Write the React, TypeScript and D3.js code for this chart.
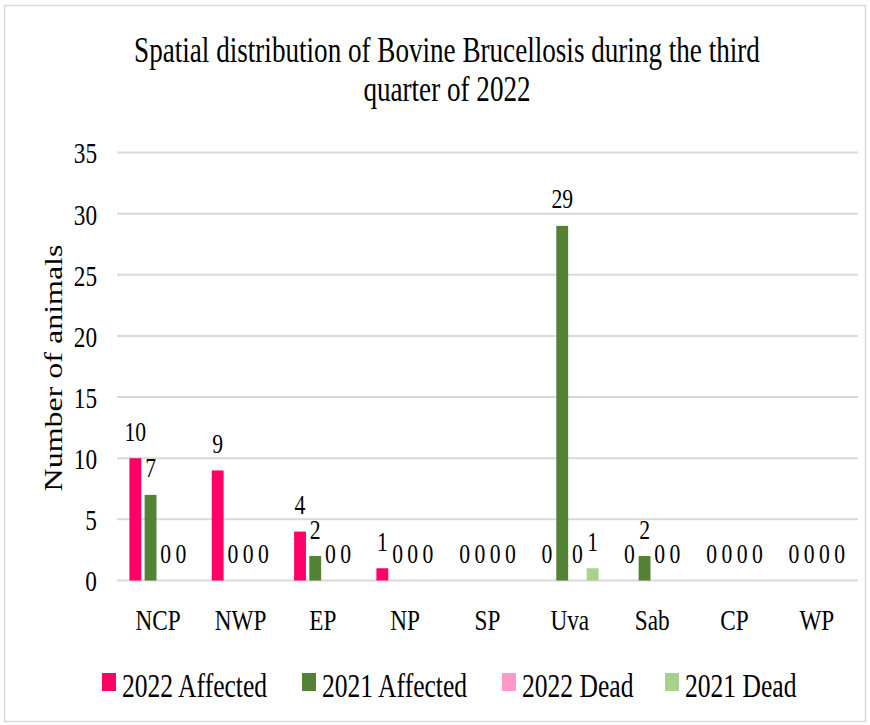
import React from "react";
import * as d3 from "d3";

const categories = ["NCP", "NWP", "EP", "NP", "SP", "Uva", "Sab", "CP", "WP"];
const affected2022 = [10, 9, 4, 1, 0, 0, 0, 0, 0];
const affected2021 = [7, 0, 2, 0, 0, 29, 2, 0, 0];
const dead2022 = [0, 0, 0, 0, 0, 0, 0, 0, 0];
const dead2021 = [0, 0, 0, 0, 0, 1, 0, 0, 0];
const seriesNames = ["2022 Affected", "2021 Affected", "2022 Dead", "2021 Dead"];
const seriesColors = ["#FF0066", "#548235", "#FF99CC", "#A9D18E"];
const yTicks = [0, 5, 10, 15, 20, 25, 30, 35];
const titleLines = ["Spatial distribution of Bovine Brucellosis during the third", "quarter of 2022"];

const SX = 0.775; // horizontal condensation of the reference
const H = 725;
const VW = 870 / SX;
const X = (px: number) => px / SX; // screen px -> viewBox units
const FONT = "'Liberation Serif', 'Times New Roman', serif";

export default function App() {
  const series = [affected2022, affected2021, dead2022, dead2021];
  const x0 = d3.scaleBand<string>().domain(categories).range([X(117), X(858)]).padding(0);
  const groupW = X(57.5);
  const x1 = d3
    .scaleBand<number>()
    .domain([0, 1, 2, 3])
    .range([0, groupW])
    .paddingInner(0.22)
    .paddingOuter(0);
  const y = d3.scaleLinear().domain([0, 35]).range([580.5, 152.5]);
  const groupOffset = (x0.bandwidth() - groupW) / 2;

  const legendX = [102, 302, 502, 665];

  return (
    <svg
      width={870}
      height={H}
      viewBox={`0 0 ${VW} ${H}`}
      preserveAspectRatio="none"
      style={{ position: "absolute", left: 0, top: 0, background: "#fff" }}
      fontFamily={FONT}
    >
      <rect x={0} y={0} width={VW} height={H} fill="#fff" />
      <rect
        x={X(4.5)}
        y={5.5}
        width={X(861)}
        height={716}
        fill="none"
        stroke="#d9d9d9"
        strokeWidth={1.5}
        vectorEffect="non-scaling-stroke"
      />
      {titleLines.map((t, i) => (
        <text key={t} x={X(447)} y={62 + i * 39} textAnchor="middle" fontSize={35} fill="#000">
          {t}
        </text>
      ))}
      {yTicks.map((t) => (
        <g key={t}>
          <line x1={X(117)} x2={X(858)} y1={y(t)} y2={y(t)} stroke="#d9d9d9" strokeWidth={2} />
          <text x={X(97)} y={y(t) + 11} textAnchor="end" fontSize={30} fill="#000">
            {t}
          </text>
        </g>
      ))}
      <text
        transform={`translate(${X(62)},${368}) rotate(-90)`}
        textAnchor="middle"
        fontSize={32}
        fill="#000"
      >
        Number of animals
      </text>
      {categories.map((c, ci) => (
        <g key={c} transform={`translate(${(x0(c) as number) + groupOffset},0)`}>
          {series.map((s, si) => (
            <rect
              key={si}
              x={x1(si)}
              y={y(s[ci])}
              width={x1.bandwidth()}
              height={y(0) - y(s[ci])}
              fill={seriesColors[si]}
            />
          ))}
          {series.map((s, si) => (
            <text
              key={"l" + si}
              x={(x1(si) as number) + x1.bandwidth() / 2}
              y={y(s[ci]) - 17.5}
              textAnchor="middle"
              fontSize={28}
              fill="#000"
            >
              {s[ci]}
            </text>
          ))}
        </g>
      ))}
      {categories.map((c) => (
        <text
          key={"c" + c}
          x={(x0(c) as number) + x0.bandwidth() / 2}
          y={630}
          textAnchor="middle"
          fontSize={30}
          fill="#000"
        >
          {c}
        </text>
      ))}
      {seriesNames.map((n, i) => (
        <g key={n}>
          <rect x={X(legendX[i])} y={673} width={X(14)} height={18} fill={seriesColors[i]} />
          <text x={X(legendX[i] + 20)} y={697} fontSize={33} fill="#000">
            {n}
          </text>
        </g>
      ))}
    </svg>
  );
}
